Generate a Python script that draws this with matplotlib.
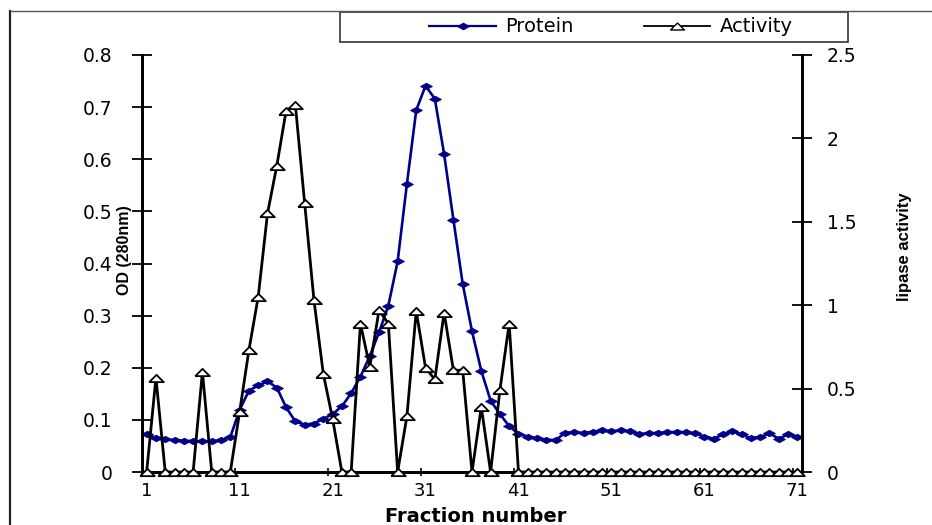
import matplotlib
matplotlib.use("Agg")
import matplotlib.pyplot as plt
from matplotlib.lines import Line2D
from matplotlib.patches import Rectangle

# ---------------- data ----------------
fractions = list(range(1, 72))
protein = [0.072, 0.066, 0.063, 0.061, 0.060, 0.059, 0.059, 0.059, 0.061, 0.067,
           0.119, 0.156, 0.166, 0.174, 0.162, 0.124, 0.097, 0.091, 0.093, 0.102,
           0.111, 0.126, 0.151, 0.183, 0.222, 0.268, 0.319, 0.404, 0.553, 0.694,
           0.741, 0.716, 0.610, 0.484, 0.361, 0.270, 0.194, 0.137, 0.111, 0.088,
           0.073, 0.068, 0.065, 0.062, 0.061, 0.075, 0.076, 0.075, 0.077, 0.080,
           0.078, 0.080, 0.078, 0.073, 0.074, 0.075, 0.076, 0.077, 0.076, 0.074,
           0.068, 0.064, 0.072, 0.078, 0.072, 0.065, 0.067, 0.074, 0.064, 0.072,
           0.068]
activity = [0, 0.565, 0, 0, 0, 0, 0.60, 0, 0, 0,
            0.36, 0.73, 1.05, 1.55, 1.835, 2.165, 2.20, 1.61, 1.03, 0.59,
            0.32, 0, 0, 0.89, 0.63, 0.97, 0.89, 0, 0.335, 0.965,
            0.625, 0.555, 0.955, 0.61, 0.61, 0, 0.39, 0, 0.49, 0.89,
            0, 0, 0, 0, 0, 0, 0, 0, 0, 0,
            0, 0, 0, 0, 0, 0, 0, 0, 0, 0,
            0, 0, 0, 0, 0, 0, 0, 0, 0, 0,
            0]
left_ticks = [0, 0.1, 0.2, 0.3, 0.4, 0.5, 0.6, 0.7, 0.8]
left_tick_labels = ["0", "0.1", "0.2", "0.3", "0.4", "0.5", "0.6", "0.7", "0.8"]
right_ticks = [0, 0.5, 1, 1.5, 2, 2.5]
right_tick_labels = ["0", "0.5", "1", "1.5", "2", "2.5"]
x_label_positions = [1, 11, 21, 31, 41, 51, 61, 71]
x_tick_labels = ["1", "11", "21", "31", "41", "51", "61", "71"]
x_mark_positions = [10.5, 20.5, 30.5, 40.5, 50.5, 60.5, 70.5]

series_names = ["Protein", "Activity"]
x_title = "Fraction number"
left_title = "OD (280nm)"
right_title = "lipase activity"

# ---------------- style ----------------
navy = "#00008B"
diamond = [(-1, 0), (0, 0.55), (1, 0), (0, -0.55), (-1, 0)]
triangle = [(-1, -0.5), (0, 0.5), (1, -0.5), (-1, -0.5)]
tick_font = dict(family="DejaVu Sans", size=13.5)
xtick_font = dict(family="DejaVu Sans", size=13)
narrow_bold = ["Liberation Sans Narrow", "Liberation Sans"]

fig = plt.figure(figsize=(9.32, 5.25), dpi=100)

# outer frame lines (figure coords)
fig.add_artist(Line2D([10 / 932, 10 / 932], [0, 1 - 11 / 525], color="#222222", lw=1.6,
                      transform=fig.transFigure))
fig.add_artist(Line2D([10 / 932, 1], [1 - 11 / 525, 1 - 11 / 525], color="#555555", lw=1.0,
                      transform=fig.transFigure))

ax = fig.add_axes([142 / 932, 1 - 472 / 525, 660 / 932, 417 / 525])
ax2 = ax.twinx()

ax.plot(fractions, protein, color=navy, lw=1.9, marker=diamond, markersize=8.5,
        markerfacecolor=navy, markeredgecolor=navy, markeredgewidth=0.6, zorder=3,
        clip_on=False)
ax2.plot(fractions, activity, color="black", lw=2.0, marker=triangle, markersize=10.5,
         markerfacecolor="white", markeredgecolor="black", markeredgewidth=1.3, zorder=3,
         clip_on=False)

ax.set_xlim(0.5, 71.5)
ax.set_ylim(0, 0.8)
ax2.set_ylim(0, 2.5)

for a in (ax, ax2):
    a.spines["top"].set_visible(False)
    for s in ("left", "right", "bottom"):
        a.spines[s].set_linewidth(2.0)
        a.spines[s].set_color("black")

ax.set_yticks(left_ticks)
ax.set_yticklabels(left_tick_labels, fontdict=tick_font)
ax.tick_params(axis="y", direction="inout", length=14, width=1.3, pad=14)
ax2.set_yticks(right_ticks)
ax2.set_yticklabels(right_tick_labels, fontdict=tick_font)
ax2.tick_params(axis="y", direction="inout", length=14, width=1.3, pad=11)

ax.set_xticks(x_label_positions)
ax.set_xticklabels(x_tick_labels, fontdict=xtick_font)
ax.set_xticks(x_mark_positions, minor=True)
ax.tick_params(axis="x", which="major", length=0, pad=7)
ax.tick_params(axis="x", which="minor", direction="inout", length=6, width=1.2)

fig.text(476 / 932, 1 - 516 / 525, x_title, ha="center", va="center",
         fontsize=14, fontweight="bold", family="DejaVu Sans")
fig.text(124 / 932, 1 - 250 / 525, left_title, ha="center", va="center", rotation=90,
         fontsize=11.5, fontweight="bold", family=narrow_bold)
fig.text(905 / 932, 1 - 247 / 525, right_title, ha="center", va="center", rotation=90,
         fontsize=12, fontweight="bold", family=narrow_bold)

# legend box
fig.add_artist(Rectangle((340 / 932, 1 - 42 / 525), 508 / 932, 30 / 525, transform=fig.transFigure,
                         fill=False, edgecolor="#333333", lw=1.2))
handles = [
    Line2D([], [], color=navy, lw=1.6, marker=diamond, markersize=8, markerfacecolor=navy,
           markeredgecolor=navy),
    Line2D([], [], color="black", lw=1.3, marker=triangle, markersize=10, markerfacecolor="white",
           markeredgecolor="black", markeredgewidth=1.0),
]
fig.legend(handles, series_names, loc="center", bbox_to_anchor=(611 / 932, 1 - 27 / 525),
           ncol=2, frameon=False, prop=dict(family="DejaVu Sans", size=14),
           handlelength=3.4, columnspacing=3.6, handletextpad=0.5, borderpad=0.1)

fig.savefig("out.png", dpi=100)
